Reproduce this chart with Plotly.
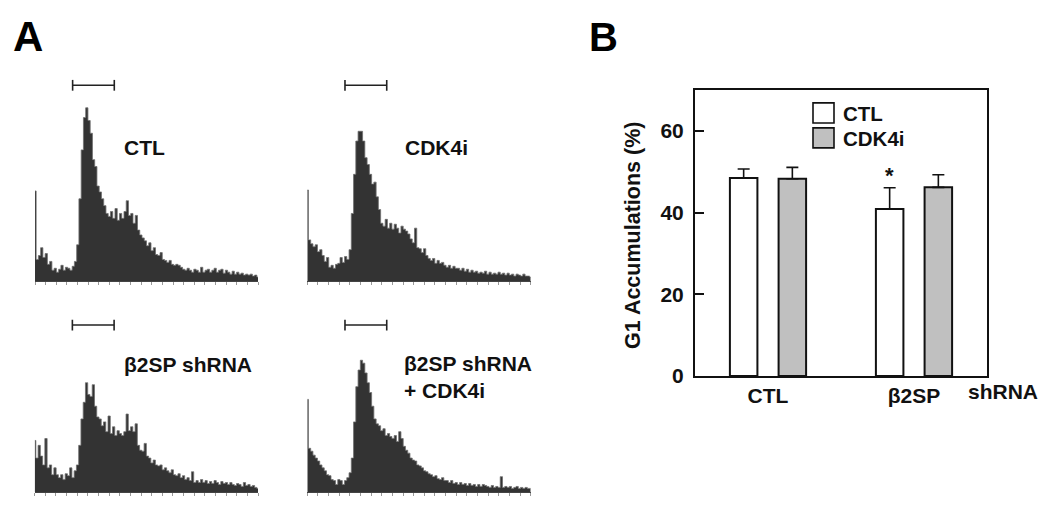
import numpy as np
import plotly.graph_objects as go

# ---------------- DATA ----------------
# Panel A: DNA-content histograms (event counts per channel bin, 100 bins)
hist_ctl = [92, 22, 26, 34, 24, 28, 17, 20, 11, 13, 9, 12, 16, 11, 14, 13, 11, 15, 20, 37,
            84, 134, 167, 177, 164, 151, 124, 117, 97, 91, 84, 77, 69, 66, 71, 64, 74, 62, 69, 64,
            71, 82, 67, 69, 59, 67, 52, 47, 44, 41, 36, 39, 31, 34, 27, 26, 29, 22, 21, 19,
            21, 17, 16, 17, 16, 14, 12, 11, 13, 11, 9, 12, 11, 9, 14, 9, 11, 12, 9, 11,
            13, 9, 11, 12, 8, 11, 9, 7, 10, 7, 9, 7, 8, 6, 7, 6, 7, 5, 6, 4]
hist_cdk4i = [93, 42, 38, 35, 37, 30, 32, 26, 20, 24, 14, 16, 13, 17, 18, 24, 19, 25, 22, 32,
              69, 109, 143, 153, 153, 143, 126, 119, 109, 99, 101, 86, 73, 59, 56, 63, 54, 59, 53, 58,
              54, 49, 56, 53, 51, 48, 43, 39, 54, 34, 33, 29, 33, 26, 23, 21, 23, 18, 21, 18,
              19, 16, 14, 16, 13, 15, 13, 13, 11, 13, 10, 12, 9, 11, 9, 10, 8, 9, 8, 10,
              7, 9, 7, 8, 7, 9, 7, 8, 6, 8, 6, 7, 5, 7, 6, 5, 7, 5, 5, 4]
hist_sh = [53, 35, 48, 37, 28, 55, 25, 28, 18, 25, 18, 15, 18, 13, 19, 17, 25, 15, 22, 28,
           48, 75, 92, 112, 100, 98, 110, 88, 77, 75, 68, 72, 62, 78, 60, 67, 58, 63, 60, 58,
           62, 80, 63, 67, 62, 70, 48, 43, 42, 50, 37, 35, 30, 33, 28, 27, 28, 23, 25, 22,
           20, 23, 18, 17, 19, 15, 17, 13, 15, 12, 21, 10, 12, 10, 13, 10, 12, 9, 11, 9,
           12, 10, 8, 11, 9, 10, 8, 10, 8, 7, 9, 8, 6, 10, 7, 8, 6, 7, 5, 4]
hist_sh_cdk4i = [95, 45, 42, 38, 35, 32, 28, 25, 22, 18, 17, 13, 12, 8, 13, 12, 8, 12, 15, 20,
                 35, 72, 108, 125, 135, 132, 122, 112, 102, 88, 75, 70, 68, 63, 65, 58, 60, 57, 55, 58,
                 52, 62, 55, 47, 43, 40, 35, 33, 32, 28, 27, 25, 22, 21, 19, 18, 16, 17, 14, 13,
                 15, 12, 12, 10, 12, 9, 10, 8, 10, 8, 9, 7, 9, 7, 8, 6, 8, 6, 8, 7,
                 6, 5, 7, 5, 6, 5, 16, 5, 6, 5, 6, 4, 5, 6, 4, 5, 4, 5, 4, 4]
hist_labels = ["<b>CTL</b>", "<b>CDK4i</b>", "<b>β2SP shRNA</b>", "<b>β2SP shRNA<br>+ CDK4i</b>"]
g1_gate = [16.7, 35.2]   # gate limits in bin units

# Panel B: G1 accumulation (%)
groups = ["CTL", "β2SP"]
ctl_mean = [48.5, 40.9]
ctl_err = [2.2, 5.2]
cdk_mean = [48.3, 46.2]
cdk_err = [2.8, 3.1]
y_ticks = [0, 20, 40, 60]

# ---------------- LAYOUT HELPERS ----------------
OFFX, OFFY = 8, 0            # horizontal page margin of the html body
W, H = 1050 - OFFX, 510 - OFFY
def px(x):
    return (x - OFFX) / W
def py(y):
    return 1 - (y - OFFY) / H

FONT = "Arial, Liberation Sans, sans-serif"
fig = go.Figure()
annotations = []
shapes = []

# histogram panels: (data, label, left, right, baseline, gate_y, label_x, label_y)
panels = [
    (hist_ctl, hist_labels[0], 35, 258, 279, 79, 122, 143),
    (hist_cdk4i, hist_labels[1], 307.3, 530.7, 279, 79, 402.5, 143),
    (hist_sh, hist_labels[2], 34.7, 258, 495, 324, 121.7, 364),
    (hist_sh_cdk4i, hist_labels[3], 307.3, 530.7, 495, 324, 401.7, 377),
]
layout_axes = {}
for i, (h, lab, left, right, base, gy, lx, ly) in enumerate(panels, start=1):
    xs = np.arange(len(h))
    fig.add_trace(go.Scatter(
        x=xs, y=h, mode="lines", line=dict(shape="hvh", color="#6e6e6e", width=0.8),
        fill="tozeroy", fillcolor="#333333", showlegend=False, hoverinfo="skip",
        xaxis=f"x{i}", yaxis=f"y{i}"))
    layout_axes[f"xaxis{i}"] = dict(
        domain=[px(left), px(right)], range=[0, len(h) - 1], anchor=f"y{i}",
        showgrid=False, zeroline=False, showline=True, linecolor="#444", linewidth=1,
        ticks="outside", ticklen=3, tickcolor="#999", tickwidth=1,
        tick0=0, dtick=(len(h) - 1) / 21, showticklabels=False)
    layout_axes[f"yaxis{i}"] = dict(
        domain=[py(base), py(base - 200)], range=[0, 200], anchor=f"x{i}",
        showgrid=False, zeroline=False, showline=False, showticklabels=False, ticks="")
    # gate marker
    for x0, x1, y0, y1 in [(g1_gate[0], g1_gate[1], gy, gy),
                           (g1_gate[0], g1_gate[0], gy - 5.5, gy + 5.5),
                           (g1_gate[1], g1_gate[1], gy - 5.5, gy + 5.5)]:
        shapes.append(dict(type="line", xref=f"x{i}", yref="paper", x0=x0, x1=x1,
                           y0=py(y0), y1=py(y1), line=dict(color="#222", width=1.6)))
    annotations.append(dict(text=lab, xref="paper", yref="paper", x=px(lx), y=py(ly),
                             xanchor="left", yanchor="middle", align="left", showarrow=False,
                             font=dict(family=FONT, size=21, color="#111")))

# ---------------- PANEL B ----------------
fig.add_trace(go.Bar(
    x=groups, y=ctl_mean, name="CTL", xaxis="x5", yaxis="y5", showlegend=False,
    marker=dict(color="white", line=dict(color="#111", width=2)),
    error_y=dict(type="data", array=ctl_err, symmetric=False, arrayminus=[0] * len(ctl_err),
                 color="#111", thickness=1.6, width=6)))
fig.add_trace(go.Bar(
    x=groups, y=cdk_mean, name="CDK4i", xaxis="x5", yaxis="y5", showlegend=False,
    marker=dict(color="#c0c0c0", line=dict(color="#111", width=2)),
    error_y=dict(type="data", array=cdk_err, symmetric=False, arrayminus=[0] * len(cdk_err),
                 color="#111", thickness=1.6, width=6)))

layout_axes["xaxis5"] = dict(
    domain=[px(695), px(987)], anchor="y5", type="category", range=[-0.5, 1.5],
    showline=True, linecolor="#111", linewidth=2, mirror=True, ticks="",
    showgrid=False, zeroline=False,
    tickfont=dict(family=FONT, size=21, color="#111", weight="bold"))
layout_axes["yaxis5"] = dict(
    domain=[py(376), py(84)], anchor="x5", range=[0, 70], tickvals=y_ticks,
    showline=True, linecolor="#111", linewidth=2, mirror=True,
    ticks="inside", ticklen=9, tickwidth=2, tickcolor="#111",
    showgrid=False, zeroline=False, ticklabelstandoff=5,
    tickfont=dict(family=FONT, size=21, color="#111", weight="bold"))

# asterisk over β2SP CTL bar
annotations.append(dict(text="<b>*</b>", xref="x5", yref="y5", x=0.833, y=ctl_mean[1] + ctl_err[1],
                        yanchor="bottom", xanchor="center", showarrow=False, yshift=-2,
                        font=dict(family=FONT, size=22, color="#111")))
# y title
annotations.append(dict(text="<b>G1 Accumulations (%)</b>", xref="paper", yref="paper",
                        x=px(633), y=py(233), textangle=-90, showarrow=False,
                        xanchor="center", yanchor="middle",
                        font=dict(family=FONT, size=21.5, color="#111")))
annotations.append(dict(text="<b>shRNA</b>", xref="paper", yref="paper", x=px(1003), y=py(392),
                        xanchor="center", yanchor="middle", showarrow=False,
                        font=dict(family=FONT, size=21, color="#111")))
# legend (manual, larger swatches)
for name, fc, y0 in [("CTL", "white", 97), ("CDK4i", "#c0c0c0", 122.5)]:
    shapes.append(dict(type="rect", xref="paper", yref="paper", x0=px(813), x1=px(834),
                       y0=py(y0), y1=py(y0 + 20.5), fillcolor=fc, line=dict(color="#111", width=1.6)))
    annotations.append(dict(text=f"<b>{name}</b>", xref="paper", yref="paper", x=px(841),
                            y=py(y0 + 10.5), xanchor="left", yanchor="middle", showarrow=False,
                            font=dict(family=FONT, size=20.5, color="#111")))

# panel letters
annotations.append(dict(text="<b>A</b>", xref="paper", yref="paper", x=px(11), y=py(29),
                        xanchor="left", yanchor="middle", showarrow=False,
                        font=dict(family=FONT, size=42, color="#000")))
annotations.append(dict(text="<b>B</b>", xref="paper", yref="paper", x=px(587), y=py(30),
                        xanchor="left", yanchor="middle", showarrow=False,
                        font=dict(family=FONT, size=40, color="#000")))

fig.update_layout(
    width=W, height=H, margin=dict(l=0, r=0, t=0, b=0),
    paper_bgcolor="white", plot_bgcolor="rgba(0,0,0,0)",
    barmode="group", bargap=0.333, bargroupgap=0.435,
    annotations=annotations, shapes=shapes, showlegend=False,
    font=dict(family=FONT, color="#111"),
    **layout_axes)

fig.write_html("out.html")
